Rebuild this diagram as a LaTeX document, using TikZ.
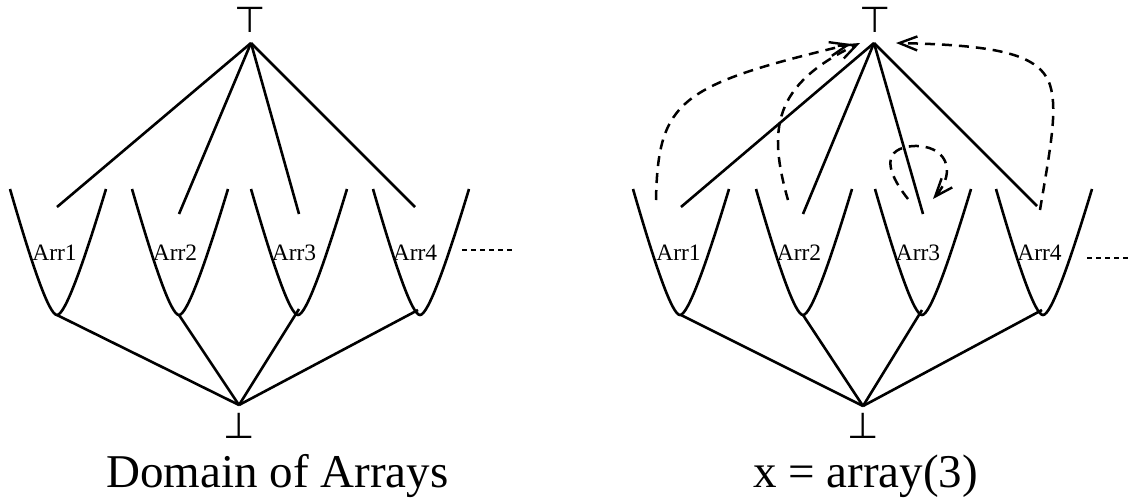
\documentclass[tikz,border=0pt]{standalone}
\usepackage{fontspec}
\setmainfont{Liberation Serif}
\newfontfamily\symfont{DejaVu Sans}
\usetikzlibrary{arrows.meta}
\begin{document}
\begin{tikzpicture}[x=1pt,y=-1pt,
  edge/.style={line width=2.6pt},
  cupline/.style={line width=2.6pt},
  dep/.style={line width=2.5pt, dash pattern=on 10pt off 7pt,
    -{Straight Barb[length=18pt,width=14pt,line width=2.4pt]}},
  more/.style={line width=2.5pt, dash pattern=on 5pt off 4pt},
  lbl/.style={font=\fontsize{23.5}{24}\selectfont, anchor=base, inner sep=0pt},
  captxt/.style={font=\fontsize{47}{50}\selectfont, anchor=base, inner sep=0pt},
  sym/.style={font=\symfont\fontsize{36}{36}\selectfont, anchor=base, inner sep=0pt},
  cup/.pic={\draw[cupline] (-47,-126) .. controls (-25,-50) and (-8,0) .. (0,0)
            .. controls (8,0) and (26,-50) .. (49,-126);}
]
\useasboundingbox (0,0) rectangle (1133,499);

% ---------------- Left diagram ----------------
\node[sym] (symTL) at (250,32) {⊤};
\node[sym] (symBL) at (239,438) {⊥};
\coordinate (tL) at (251,43);
\coordinate (bL) at (239,405);

\pic at (57,315) {cup};
\pic at (179,315) {cup};
\pic at (298,315) {cup};
\pic at (420,315) {cup};

\node[lbl] (l1) at (54.5,260) {Arr1};
\node[lbl] (l2) at (175,260) {Arr2};
\node[lbl] (l3) at (294,260) {Arr3};
\node[lbl] (l4) at (415,260) {Arr4};

\coordinate (uL1) at (57,207);
\coordinate (uL2) at (179,214);
\coordinate (uL3) at (299,214);
\coordinate (uL4) at (415,207);
\coordinate (dL1) at (57,315);
\coordinate (dL2) at (179,315);
\coordinate (dL3) at (299,309);
\coordinate (dL4) at (418,310);

\foreach \i in {1,2,3,4} {
  \draw[edge] (tL) -- (uL\i);
  \draw[edge] (bL) -- (dL\i);
}
\coordinate (mL1) at (462,250);
\coordinate (mL2) at (513,250);
\draw[more] (mL1) -- (mL2);

\node[captxt] (capL) at (277.5,487) {Domain of Arrays};

% ---------------- Right diagram ----------------
\node[sym] (symTR) at (875,32) {⊤};
\node[sym] (symBR) at (863,438) {⊥};
\coordinate (tR) at (874,43);
\coordinate (bR) at (863,406);

\pic at (680,315) {cup};
\pic at (803,315) {cup};
\pic at (922,315) {cup};
\pic at (1043,315) {cup};

\node[lbl] (r1) at (678.5,260) {Arr1};
\node[lbl] (r2) at (799,260) {Arr2};
\node[lbl] (r3) at (918,260) {Arr3};
\node[lbl] (r4) at (1039.5,260) {Arr4};

\coordinate (uR1) at (681,207);
\coordinate (uR2) at (803,214);
\coordinate (uR3) at (923,214);
\coordinate (uR4) at (1037,206);
\coordinate (dR1) at (681,315);
\coordinate (dR2) at (803,315);
\coordinate (dR3) at (922,310);
\coordinate (dR4) at (1042,310);

\foreach \i in {1,2,3,4} {
  \draw[edge] (tR) -- (uR\i);
  \draw[edge] (bR) -- (dR\i);
}
\coordinate (mR1) at (1087,258);
\coordinate (mR2) at (1130,258);
\draw[more] (mR1) -- (mR2);

% dashed arrows
\coordinate (s1) at (656,200);
\coordinate (e1) at (851,44);
\coordinate (s2) at (788,200);
\coordinate (e2) at (860,43);
\coordinate (s4) at (1040,210);
\coordinate (e4) at (896,43);
\coordinate (s3) at (908,199);
\coordinate (e3) at (933,199);
\draw[dep] (s1) .. controls (658,100) and (680,85) .. (e1);
\draw[dep] (s2) .. controls (768,130) and (772,85) .. (e2);
\draw[dep] (s4) .. controls (1050,150) and (1058,110) .. (1050,85)
               .. controls (1040,55) and (1000,45) .. (e4);
\draw[dep] (s3) .. controls (885,170) and (882,148) .. (914,146)
               .. controls (945,145) and (958,170) .. (e3);

\node[captxt] (capR) at (865.5,487) {x = array(3)};
\end{tikzpicture}
\end{document}
